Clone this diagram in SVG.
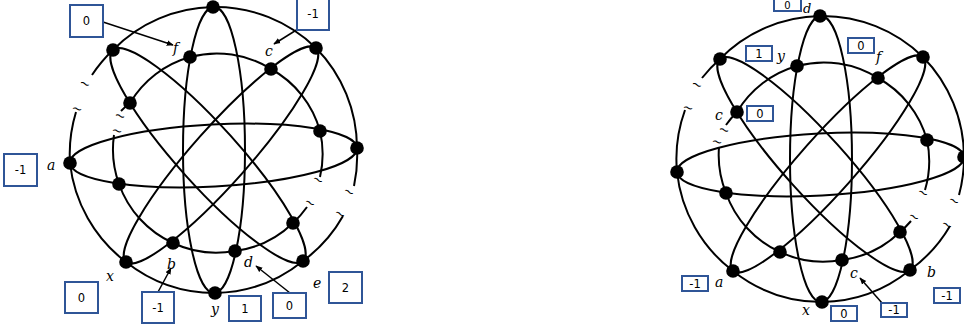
<svg xmlns="http://www.w3.org/2000/svg" width="964" height="329" viewBox="0 0 964 329">
<style>
.ln{fill:none;stroke:#000;stroke-width:2}
.nd{fill:#000}
.bx{fill:#fff;stroke:#2f5597;stroke-width:2}
.num{font-family:"DejaVu Sans",sans-serif;font-size:11.5px;text-anchor:middle;fill:#000}
.lb{font-family:"DejaVu Serif",serif;font-style:italic;font-size:14px;fill:#000}
.tl{font-family:"DejaVu Sans",sans-serif;font-size:13px;text-anchor:middle;fill:#000}
.ar{fill:none;stroke:#000;stroke-width:1.5;marker-end:url(#ah)}
</style>
<defs>
<marker id="ah" viewBox="0 0 10 10" refX="9" refY="5" markerWidth="7" markerHeight="7" orient="auto" markerUnits="userSpaceOnUse"><path d="M0 1 L10 5 L0 9 z" fill="#000"/></marker>
</defs>
<rect width="964" height="329" fill="#fff"/>

<g id="connectors">
 <g id="left-curves">
  <path class="ln" d="M92 75 A143.5 143.5 0 0 1 113 50 A143.5 143.5 0 0 1 213 7 A143.5 143.5 0 0 1 316 48 A143.5 143.5 0 0 1 357 148 A143.5 143.5 0 0 1 354 186"/>
  <path class="ln" d="M343 216 A143.5 143.5 0 0 1 303 261 A143.5 143.5 0 0 1 215 293 A143.5 143.5 0 0 1 126 262 A143.5 143.5 0 0 1 70 163 A143.5 143.5 0 0 1 76 112"/>
  <ellipse class="ln" cx="214" cy="150" rx="31" ry="143"/>
  <ellipse class="ln" cx="213.5" cy="155.5" rx="143.7" ry="31" transform="rotate(-3 213.5 155.5)"/>
  <ellipse class="ln" cx="208" cy="155.5" rx="142" ry="30" transform="rotate(48 208 155.5)"/>
  <ellipse class="ln" cx="221" cy="155" rx="143" ry="28" transform="rotate(-48.4 221 155)"/>
  <path class="ln" d="M121 111 A102 102 0 0 1 130 103 A102 102 0 0 1 190 57 A102 102 0 0 1 271 69 A102 102 0 0 1 320 131 A102 102 0 0 1 320 177"/>
  <path class="ln" d="M307 207 A102 102 0 0 1 293 223 A102 102 0 0 1 235 251 A102 102 0 0 1 173 243 A102 102 0 0 1 119 184 A102 102 0 0 1 114 135"/>
  <text class="tl" x="85" y="88" transform="rotate(25 85 84)">~</text>
  <text class="tl" x="77" y="113" transform="rotate(15 77 109)">~</text>
  <text class="tl" x="120" y="120" transform="rotate(20 120 116)">~</text>
  <text class="tl" x="117" y="135" transform="rotate(15 117 131)">~</text>
  <text class="tl" x="318" y="184" transform="rotate(30 318 180)">~</text>
  <text class="tl" x="349" y="196" transform="rotate(30 349 192)">~</text>
  <text class="tl" x="310" y="207" transform="rotate(30 310 203)">~</text>
  <text class="tl" x="340" y="218" transform="rotate(30 340 214)">~</text>
 </g>
 <g id="right-curves" transform="translate(607,9)">
  <path class="ln" d="M95 69 A143.5 143.5 0 0 1 113 50 A143.5 143.5 0 0 1 213 7 A143.5 143.5 0 0 1 316 48 A143.5 143.5 0 0 1 357 148 A143.5 143.5 0 0 1 352 186"/>
  <path class="ln" d="M343 217 A143.5 143.5 0 0 1 303 261 A143.5 143.5 0 0 1 215 293 A143.5 143.5 0 0 1 126 262 A143.5 143.5 0 0 1 70 163 A143.5 143.5 0 0 1 78 101"/>
  <ellipse class="ln" cx="214" cy="150" rx="31" ry="143"/>
  <ellipse class="ln" cx="213.5" cy="155.5" rx="143.7" ry="31" transform="rotate(-3 213.5 155.5)"/>
  <ellipse class="ln" cx="208" cy="155.5" rx="142" ry="30" transform="rotate(48 208 155.5)"/>
  <ellipse class="ln" cx="221" cy="155" rx="143" ry="28" transform="rotate(-48.4 221 155)"/>
  <path class="ln" d="M119 116 A102 102 0 0 1 130 103 A102 102 0 0 1 190 57 A102 102 0 0 1 271 69 A102 102 0 0 1 320 131 A102 102 0 0 1 318 181"/>
  <path class="ln" d="M304 212 A102 102 0 0 1 293 223 A102 102 0 0 1 235 251 A102 102 0 0 1 173 243 A102 102 0 0 1 119 184 A102 102 0 0 1 112 138"/>
  <text class="tl" x="90" y="80" transform="rotate(25 90 76)">~</text>
  <text class="tl" x="81" y="103" transform="rotate(15 81 99)">~</text>
  <text class="tl" x="117" y="125" transform="rotate(20 117 121)">~</text>
  <text class="tl" x="110" y="137" transform="rotate(15 110 133)">~</text>
  <text class="tl" x="316" y="188" transform="rotate(30 316 184)">~</text>
  <text class="tl" x="347" y="196" transform="rotate(30 347 192)">~</text>
  <text class="tl" x="307" y="212" transform="rotate(30 307 208)">~</text>
  <text class="tl" x="340" y="220" transform="rotate(30 340 216)">~</text>
 </g>
 <g id="arrows">
  <path class="ar" d="M103 22 L173 45"/>
  <path class="ar" d="M298 29 L274 44"/>
  <path class="ar" d="M158 292 L171 268"/>
  <path class="ar" d="M290 293 L256 266"/>
  <path class="ar" d="M882 303 L860 278"/>
 </g>
</g>

<g id="left-nodes">
 <g id="L-top"><circle class="nd" cx="213" cy="7" r="6.8"/></g>
 <g id="L-nw"><circle class="nd" cx="113" cy="50" r="6.8"/></g>
 <g id="L-ne"><circle class="nd" cx="316" cy="48" r="6.8"/></g>
 <g id="L-a"><circle class="nd" cx="70" cy="163" r="6.8"/><text class="lb" x="47" y="170">a</text></g>
 <g id="L-east"><circle class="nd" cx="357" cy="148" r="6.8"/></g>
 <g id="L-x"><circle class="nd" cx="126" cy="262" r="6.8"/><text class="lb" x="106" y="281">x</text></g>
 <g id="L-y"><circle class="nd" cx="215" cy="293" r="6.8"/><text class="lb" x="211" y="314">y</text></g>
 <g id="L-e"><circle class="nd" cx="303" cy="261" r="6.8"/><text class="lb" x="313" y="288">e</text></g>
 <g id="L-f"><circle class="nd" cx="190" cy="57" r="6.8"/><text class="lb" x="173" y="53">f</text></g>
 <g id="L-c"><circle class="nd" cx="271" cy="69" r="6.8"/><text class="lb" x="265" y="56">c</text></g>
 <g id="L-i1"><circle class="nd" cx="130" cy="103" r="6.8"/></g>
 <g id="L-i2"><circle class="nd" cx="320" cy="131" r="6.8"/></g>
 <g id="L-i3"><circle class="nd" cx="119" cy="184" r="6.8"/></g>
 <g id="L-i4"><circle class="nd" cx="293" cy="223" r="6.8"/></g>
 <g id="L-b"><circle class="nd" cx="173" cy="243" r="6.8"/><text class="lb" x="167" y="269">b</text></g>
 <g id="L-d"><circle class="nd" cx="235" cy="251" r="6.8"/><text class="lb" x="244" y="267">d</text></g>
</g>

<g id="right-nodes">
 <g id="R-d"><circle class="nd" cx="820" cy="16" r="6.8"/><text class="lb" x="803" y="12.5" style="font-size:13px">d</text></g>
 <g id="R-nw"><circle class="nd" cx="720" cy="59" r="6.8"/></g>
 <g id="R-ne"><circle class="nd" cx="923" cy="57" r="6.8"/></g>
 <g id="R-west"><circle class="nd" cx="677" cy="172" r="6.8"/></g>
 <g id="R-east"><circle class="nd" cx="964" cy="157" r="6.8"/></g>
 <g id="R-a"><circle class="nd" cx="733" cy="271" r="6.8"/><text class="lb" x="715" y="287">a</text></g>
 <g id="R-x"><circle class="nd" cx="822" cy="302" r="6.8"/><text class="lb" x="802" y="315">x</text></g>
 <g id="R-b"><circle class="nd" cx="910" cy="270" r="6.8"/><text class="lb" x="927" y="277">b</text></g>
 <g id="R-y"><circle class="nd" cx="797" cy="66" r="6.8"/><text class="lb" x="777" y="61">y</text></g>
 <g id="R-f"><circle class="nd" cx="878" cy="78" r="6.8"/><text class="lb" x="876" y="62">f</text></g>
 <g id="R-c"><circle class="nd" cx="737" cy="112" r="6.8"/><text class="lb" x="715" y="120">c</text></g>
 <g id="R-i2"><circle class="nd" cx="927" cy="140" r="6.8"/></g>
 <g id="R-i3"><circle class="nd" cx="726" cy="193" r="6.8"/></g>
 <g id="R-i4"><circle class="nd" cx="900" cy="232" r="6.8"/></g>
 <g id="R-i5"><circle class="nd" cx="780" cy="252" r="6.8"/></g>
 <g id="R-c2"><circle class="nd" cx="842" cy="260" r="6.8"/><text class="lb" x="850" y="278">c</text></g>
</g>

<g id="left-boxes">
 <g id="LB1"><rect class="bx" x="70" y="5" width="33" height="32"/><text class="num" x="86.5" y="25">0</text></g>
 <g id="LB2"><rect class="bx" x="297" y="-3" width="32" height="33"/><text class="num" x="313" y="18">-1</text></g>
 <g id="LB3"><rect class="bx" x="4" y="154" width="33" height="32"/><text class="num" x="20.5" y="174">-1</text></g>
 <g id="LB4"><rect class="bx" x="65" y="282" width="33" height="31"/><text class="num" x="81.5" y="301.5">0</text></g>
 <g id="LB5"><rect class="bx" x="142" y="292" width="32" height="31"/><text class="num" x="158" y="311.5">-1</text></g>
 <g id="LB6"><rect class="bx" x="229" y="296" width="32" height="25"/><text class="num" x="245" y="312.5">1</text></g>
 <g id="LB7"><rect class="bx" x="273" y="293" width="33" height="25"/><text class="num" x="289.5" y="309.5">0</text></g>
 <g id="LB8"><rect class="bx" x="329" y="272" width="33" height="31"/><text class="num" x="345.5" y="291.5">2</text></g>
</g>

<g id="right-boxes">
 <g id="RB1"><rect class="bx" x="774" y="-3" width="27" height="14"/><text class="num" x="787.5" y="9" style="font-size:10px">0</text></g>
 <g id="RB2"><rect class="bx" x="746" y="46" width="26" height="15"/><text class="num" x="759" y="57.5">1</text></g>
 <g id="RB3"><rect class="bx" x="848" y="38" width="26" height="15"/><text class="num" x="861" y="49.5">0</text></g>
 <g id="RB4"><rect class="bx" x="747" y="106" width="26" height="15"/><text class="num" x="760" y="117.5">0</text></g>
 <g id="RB5"><rect class="bx" x="682" y="276" width="26" height="15"/><text class="num" x="695" y="287.5">-1</text></g>
 <g id="RB6"><rect class="bx" x="831" y="306" width="26" height="15"/><text class="num" x="844" y="317.5">0</text></g>
 <g id="RB7"><rect class="bx" x="881" y="303" width="26" height="14"/><text class="num" x="894" y="314">-1</text></g>
 <g id="RB8"><rect class="bx" x="934" y="288" width="26" height="15"/><text class="num" x="947" y="299.5">-1</text></g>
</g>
</svg>
